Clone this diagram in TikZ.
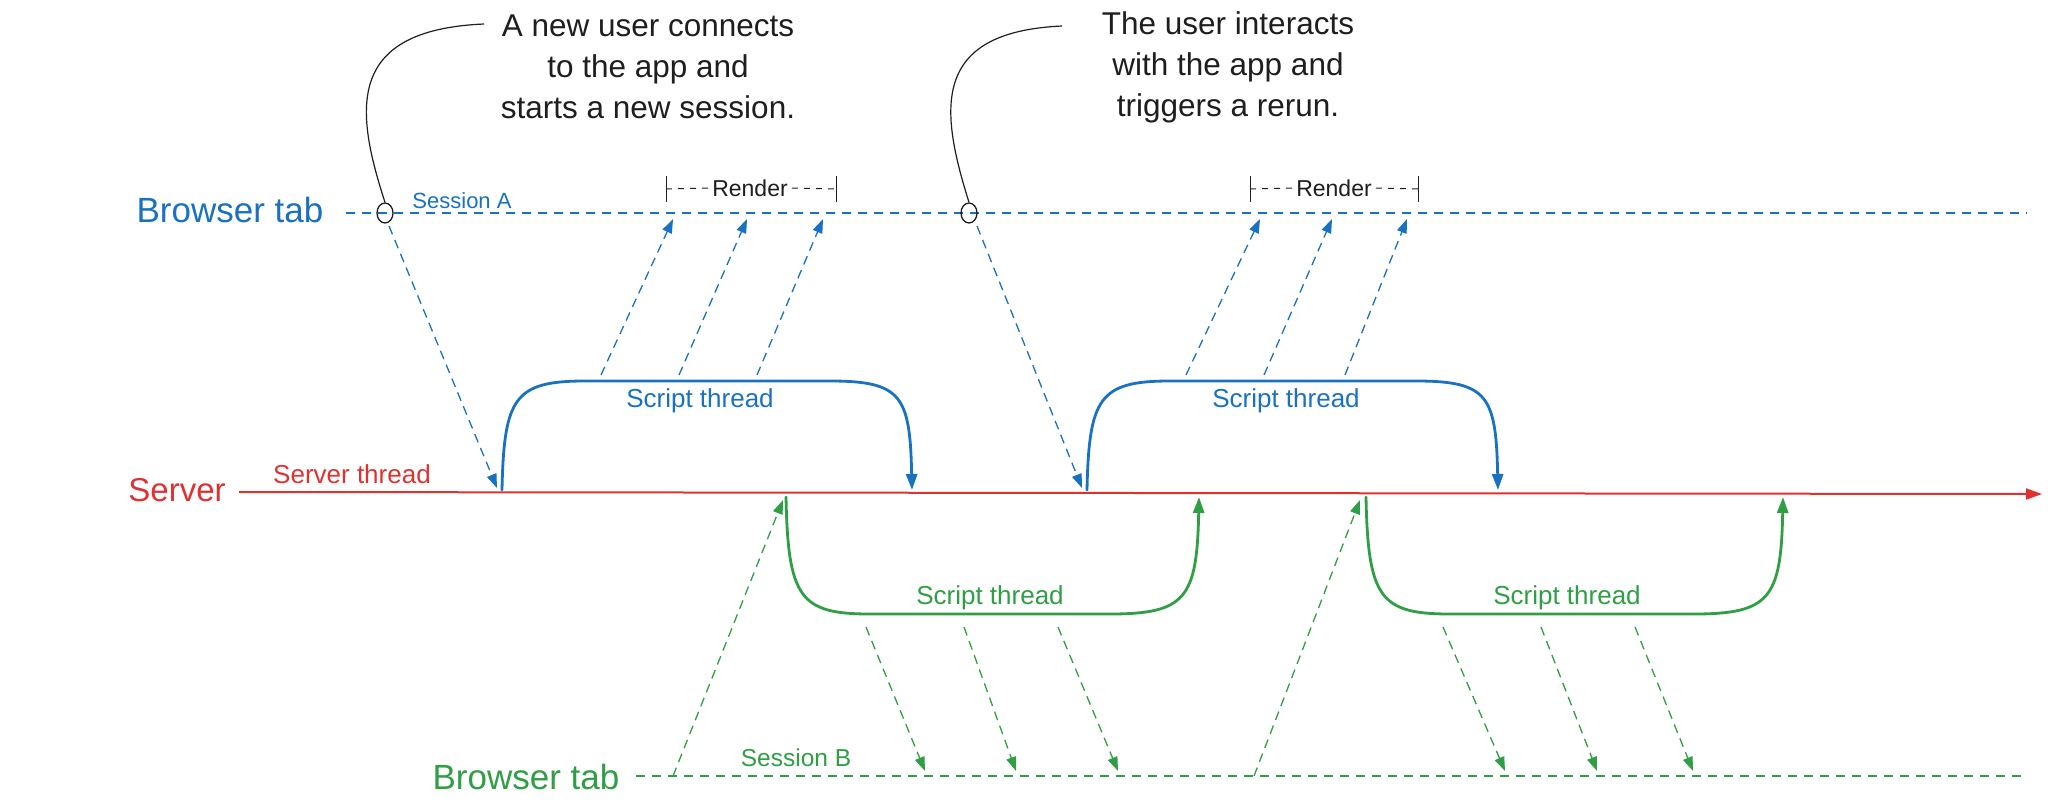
\documentclass[tikz,border=0pt]{standalone}
\usepackage{fontspec}
\setmainfont{Liberation Sans}
\usetikzlibrary{arrows.meta,calc,shapes.geometric}
\definecolor{cblue}{HTML}{1971C2}
\definecolor{cred}{HTML}{E03131}
\definecolor{cgreen}{HTML}{2F9E44}
\definecolor{cblack}{HTML}{1E1E1E}
\newcommand\fTab{\fontsize{35}{42}\selectfont}
\newcommand\fSrv{\fontsize{33}{40}\selectfont}
\newcommand\fNote{\fontsize{31.5}{41}\selectfont}
\newcommand\fThr{\fontsize{26}{30}\selectfont}
\newcommand\fSes{\fontsize{22}{26}\selectfont}
\newcommand\fSesB{\fontsize{24.5}{28}\selectfont}
\newcommand\fRen{\fontsize{23}{26}\selectfont}
\tikzset{
  tabline/.style={line width=2pt, dash pattern=on 9pt off 7pt},
  msg/.style={line width=1.3pt, dash pattern=on 9pt off 6pt, -{Triangle[length=14pt,width=10pt]}},
  thr/.style={line width=2.8pt, line cap=round, -{Triangle[length=16pt,width=11pt]}},
  lbl/.style={inner sep=0pt, anchor=center},
  ring/.style={draw=cblack, line width=1.3pt, ellipse, minimum width=16pt, minimum height=20pt, inner sep=0pt},
}
\begin{document}
\begin{tikzpicture}[x=1pt,y=-1pt]
\useasboundingbox (0,0) rectangle (2048,806);

% ---------- lines ----------
\coordinate (tabAs) at (346,213);
\coordinate (tabAe) at (2027,213);
\coordinate (tabBs) at (636,776);
\coordinate (tabBe) at (2027,776);
\coordinate (srvs) at (239,492);
\coordinate (srve) at (2042,494);
\draw[cblue, tabline] (tabAs) -- (tabAe);
\draw[cgreen, tabline] (tabBs) -- (tabBe);
\draw[cred, line width=2pt, -{Triangle[length=16pt,width=11pt]}] (srvs) -- (srve);

% ---------- labels ----------
\node[lbl, text=cblue, font=\fTab] (tabA) at (230,210) {Browser tab};
\node[lbl, text=cgreen, font=\fTab] (tabB) at (526,777) {Browser tab};
\node[lbl, text=cred, font=\fSrv] (srv) at (177,490) {Server};
\node[lbl, text=cred, font=\fThr] (srvthr) at (352,474) {Server thread};
\node[lbl, text=cblue, font=\fSes] (sesA) at (462,201) {Session A};
\node[lbl, text=cgreen, font=\fSesB] (sesB) at (796,758) {Session B};

% ---------- annotations ----------
\node[lbl, text=cblack, font=\fNote, align=center] (note1) at (648,67)
  {A new user connects\\to the app and\\starts a new session.};
\node[lbl, text=cblack, font=\fNote, align=center] (note2) at (1228,67)
  {The user interacts\\with the app and\\triggers a rerun.};
\node[ring] (c1) at (385,213) {};
\node[ring] (c2) at (969,213) {};
\coordinate (n1e) at (484,24);
\coordinate (n2e) at (1062,26);
\draw[cblack, line width=1.2pt] (c1.north) .. controls (355,110) and (345,30) .. (n1e);
\draw[cblack, line width=1.2pt] (c2.north) .. controls (940,110) and (930,32) .. (n2e);

% ---------- render brackets ----------
\node[lbl, text=cblack, font=\fRen] (ren1) at (750,188) {Render};
\node[lbl, text=cblack, font=\fRen] (ren2) at (1334,188) {Render};
\coordinate (r1a) at (666,189); \coordinate (r1b) at (836,189);
\coordinate (r2a) at (1250,189); \coordinate (r2b) at (1418,189);
\foreach \p in {r1a,r1b,r2a,r2b}{
  \draw[cblack, line width=1pt] ($(\p)+(0,-13)$) -- ($(\p)+(0,13)$);
}
\draw[cblack, line width=1pt, dash pattern=on 6pt off 6pt] (r1a) -- ($(ren1.west)+(-4,0)$);
\draw[cblack, line width=1pt, dash pattern=on 6pt off 6pt] ($(ren1.east)+(4,0)$) -- (r1b);
\draw[cblack, line width=1pt, dash pattern=on 6pt off 6pt] (r2a) -- ($(ren2.west)+(-4,0)$);
\draw[cblack, line width=1pt, dash pattern=on 6pt off 6pt] ($(ren2.east)+(4,0)$) -- (r2b);

% ---------- blue session A ----------
\coordinate (a1s) at (389,226); \coordinate (a1e) at (497,488);
\coordinate (a2s) at (977,226); \coordinate (a2e) at (1082,488);
\draw[cblue, msg] (a1s) -- (a1e);
\draw[cblue, msg] (a2s) -- (a2e);

\coordinate (b1s) at (502,490); \coordinate (b1e) at (912,490);
\coordinate (b2s) at (1087,490); \coordinate (b2e) at (1498,490);
\draw[cblue, thr] (b1s) .. controls (504,398) and (514,381) .. (585,381) -- (830,381) .. controls (902,381) and (910,396) .. (b1e);
\draw[cblue, thr] (b2s) .. controls (1089,398) and (1099,381) .. (1170,381) -- (1416,381) .. controls (1488,381) and (1496,396) .. (b2e);
\node[lbl, text=cblue, font=\fThr] (st1) at (700,401) {Script thread};
\node[lbl, text=cblue, font=\fThr] (st2) at (1286,401) {Script thread};

\foreach \sx/\ex in {601/673, 679/747, 757/823, 1186/1260, 1264/1332, 1345/1407}{
  \coordinate (us) at (\sx,375); \coordinate (ue) at (\ex,219);
  \draw[cblue, msg] (us) -- (ue);
}

% ---------- green session B ----------
\coordinate (g1a) at (673,776); \coordinate (g1b) at (783,500);
\coordinate (g2a) at (1254,776); \coordinate (g2b) at (1360,500);
\draw[cgreen, msg] (g1a) -- (g1b);
\draw[cgreen, msg] (g2a) -- (g2b);

\coordinate (g1s) at (786,497); \coordinate (g1e) at (1199,497);
\coordinate (g2s) at (1366,497); \coordinate (g2e) at (1783,497);
\draw[cgreen, thr] (g1s) .. controls (788,598) and (800,614) .. (870,614) -- (1110,614) .. controls (1186,614) and (1197,598) .. (g1e);
\draw[cgreen, thr] (g2s) .. controls (1368,598) and (1380,614) .. (1450,614) -- (1694,614) .. controls (1770,614) and (1781,598) .. (g2e);
\node[lbl, text=cgreen, font=\fThr] (st3) at (990,598) {Script thread};
\node[lbl, text=cgreen, font=\fThr] (st4) at (1567,598) {Script thread};

\foreach \sx/\ex in {866/925, 964/1016, 1058/1118, 1443/1505, 1541/1597, 1635/1693}{
  \coordinate (ds) at (\sx,627); \coordinate (de) at (\ex,771);
  \draw[cgreen, msg] (ds) -- (de);
}
\end{tikzpicture}
\end{document}
